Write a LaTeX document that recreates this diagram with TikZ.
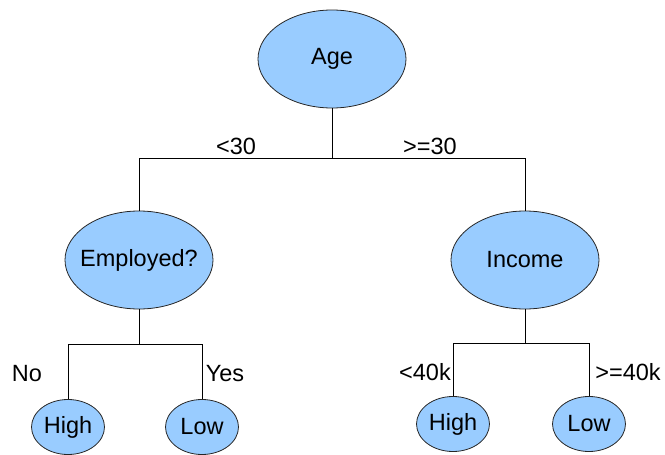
\documentclass[tikz,border=0pt]{standalone}
\usepackage{fontspec}
\setmainfont{Liberation Sans}
\usetikzlibrary{shapes.geometric}
\definecolor{nodeblue}{HTML}{99CCFF}
\begin{document}
\begin{tikzpicture}[x=1pt,y=-1pt,
  decision/.style={ellipse,draw=black!85,fill=nodeblue,line width=0.8pt,inner sep=0pt,font=\fontsize{23.5}{27}\selectfont},
  bignode/.style={decision,inner xsep=-9pt,minimum width=148pt,minimum height=98pt},
  leaf/.style={decision,inner xsep=-6pt,minimum width=73pt,minimum height=55pt},
  lbl/.style={font=\fontsize{23.5}{27}\selectfont,inner sep=0pt},
  edge/.style={draw,line width=0.8pt}]
\useasboundingbox (0,0) rectangle (665,455);
\node[bignode] (age) at (332,59) {Age};
\node[bignode] (emp) at (139,260) {Employed?};
\node[bignode] (inc) at (525,260) {Income};
\node[leaf] (h1) at (68,427) {High};
\node[leaf] (l1) at (202,427) {Low};
\node[leaf] (h2) at (453,424) {High};
\node[leaf] (l2) at (589,424) {Low};
% junctions
\coordinate (j0) at (332,158);
\coordinate (j0l) at (139,158);
\coordinate (j0r) at (525,158);
\coordinate (j1) at (139,344);
\coordinate (j1l) at (68,344);
\coordinate (j1r) at (202,344);
\coordinate (j2) at (525,343);
\coordinate (j2l) at (453,343);
\coordinate (j2r) at (589,343);
\draw[edge] (age.south) -- (j0);
\draw[edge] (j0l) -- (j0r);
\draw[edge] (j0l) -- (emp.north);
\draw[edge] (j0r) -- (inc.north);
\draw[edge] (emp.south) -- (j1);
\draw[edge] (j1l) -- (j1r);
\draw[edge] (j1l) -- (h1.north);
\draw[edge] (j1r) -- (l1.north);
\draw[edge] (inc.south) -- (j2);
\draw[edge] (j2l) -- (j2r);
\draw[edge] (j2l) -- (h2.north);
\draw[edge] (j2r) -- (l2.north);
% labels
\node[lbl] (t1) at (236,146) {<30};
\node[lbl] (t2) at (430,146) {>=30};
\node[lbl] (t3) at (27,374) {No};
\node[lbl] (t4) at (225,374) {Yes};
\node[lbl] (t5) at (425,372) {<40k};
\node[lbl] (t6) at (628,372) {>=40k};
\end{tikzpicture}
\end{document}
